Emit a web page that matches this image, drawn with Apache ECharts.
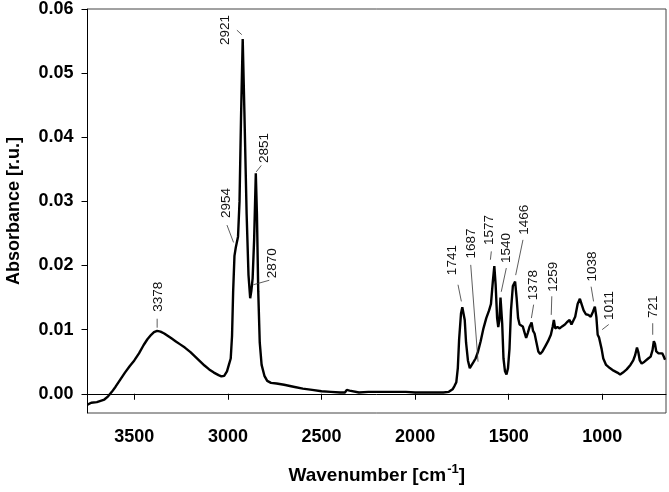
<!DOCTYPE html>
<html>
<head>
<meta charset="utf-8">
<script src="https://cdn.jsdelivr.net/npm/echarts@6/dist/echarts.min.js"></script>
<style>
  html, body { margin: 0; padding: 0; background: #fff; }
  #chart { width: 669px; height: 492px; }
</style>
</head>
<body>
<div id="chart"></div>
<script>
// spectrum (wavenumber in cm-1, absorbance in r.u.)
const wavenumber = [
  3750, 3730, 3700, 3680, 3660, 3640, 3620, 3600, 3575, 3550, 3525, 3500, 3475, 3450, 3430, 3410,
  3395, 3378, 3360, 3340, 3320, 3300, 3280, 3255, 3230, 3200, 3175, 3150, 3125, 3100, 3075, 3050,
  3035, 3020, 3005, 2995, 2985, 2978, 2972, 2965, 2958, 2954, 2946, 2938, 2930, 2921, 2912, 2900,
  2890, 2881, 2875, 2868, 2860, 2851, 2845, 2838, 2830, 2820, 2805, 2790, 2770, 2740, 2700, 2650,
  2600, 2550, 2500, 2450, 2400, 2375, 2365, 2358, 2350, 2340, 2300, 2250, 2200, 2150, 2100, 2050,
  2000, 1950, 1900, 1850, 1820, 1800, 1790, 1780, 1772, 1765, 1755, 1748, 1741, 1735, 1728, 1718,
  1708, 1698, 1687, 1677, 1665, 1650, 1635, 1620, 1605, 1595, 1585, 1577, 1570, 1562, 1556, 1550,
  1544, 1540, 1535, 1528, 1520, 1512, 1504, 1496, 1488, 1478, 1466, 1458, 1450, 1442, 1432, 1425,
  1415, 1407, 1398, 1388, 1378, 1370, 1362, 1352, 1342, 1332, 1320, 1305, 1290, 1275, 1265, 1259,
  1252, 1240, 1228, 1215, 1200, 1188, 1175, 1165, 1155, 1145, 1132, 1120, 1110, 1100, 1088, 1075,
  1062, 1050, 1040, 1032, 1025, 1018, 1011, 1004, 995, 980, 960, 940, 920, 905, 890, 870,
  850, 835, 825, 815, 808, 800, 790, 775, 755, 742, 732, 725, 719, 712, 700, 690,
  680, 672, 665
];
const absorbance = [
  -0.0017, -0.0014, -0.0013, -0.0011, -0.0009, -0.0004, 0.0003, 0.0011, 0.0022, 0.0033, 0.0043, 0.0052, 0.0063, 0.0076, 0.0085, 0.0092,
  0.0096, 0.0098, 0.0097, 0.0094, 0.0090, 0.0086, 0.0082, 0.0077, 0.0072, 0.0065, 0.0058, 0.0051, 0.0044, 0.0038, 0.0033, 0.0029,
  0.0027, 0.0028, 0.0035, 0.0045, 0.0055, 0.0090, 0.0160, 0.0215, 0.0228, 0.0230, 0.0245, 0.0300, 0.0430, 0.0553, 0.0440, 0.0280,
  0.0185, 0.0149, 0.0160, 0.0180, 0.0240, 0.0344, 0.0280, 0.0160, 0.0080, 0.0045, 0.0028, 0.0020, 0.0017, 0.0016, 0.0014, 0.0011,
  0.0008, 0.0006, 0.0004, 0.0003, 0.0002, 0.0002, 0.0006, 0.0004, 0.0005, 0.0002, 0.0002, 0.0003, 0.0003, 0.0003, 0.0003, 0.0003,
  0.0002, 0.0002, 0.0002, 0.0002, 0.0003, 0.0007, 0.0012, 0.0018, 0.0040, 0.0085, 0.0125, 0.0135, 0.0136, 0.0115, 0.0080, 0.0052,
  0.0040, 0.0043, 0.0050, 0.0055, 0.0065, 0.0082, 0.0102, 0.0118, 0.0130, 0.0140, 0.0175, 0.0199, 0.0170, 0.0118, 0.0104, 0.0115,
  0.0150, 0.0152, 0.0110, 0.0055, 0.0035, 0.0030, 0.0040, 0.0070, 0.0130, 0.0168, 0.0175, 0.0150, 0.0118, 0.0108, 0.0105, 0.0105,
  0.0095, 0.0087, 0.0095, 0.0105, 0.0111, 0.0098, 0.0094, 0.0080, 0.0066, 0.0062, 0.0066, 0.0074, 0.0082, 0.0092, 0.0105, 0.0115,
  0.0102, 0.0104, 0.0102, 0.0105, 0.0108, 0.0112, 0.0115, 0.0108, 0.0110, 0.0120, 0.0140, 0.0148, 0.0145, 0.0130, 0.0124, 0.0123,
  0.0120, 0.0128, 0.0136, 0.0120, 0.0092, 0.0088, 0.0086, 0.0070, 0.0055, 0.0045, 0.0040, 0.0036, 0.0033, 0.0030, 0.0033, 0.0038,
  0.0045, 0.0052, 0.0060, 0.0072, 0.0065, 0.0052, 0.0047, 0.0050, 0.0055, 0.0058, 0.0068, 0.0082, 0.0078, 0.0066, 0.0063, 0.0064,
  0.0063, 0.0058, 0.0053
];

const xTicks = [3500, 3000, 2500, 2000, 1500, 1000];
const yTicks = [0, 0.01, 0.02, 0.03, 0.04, 0.05, 0.06];

// peak labels: text, where the rotated label starts, and its leader line
const peakNames = ['3378', '2954', '2921', '2851', '2870', '1741', '1687', '1577', '1540', '1466', '1378', '1259', '1038', '1011', '721'];
const labelAt = [
  [3374, 0.0128], [3009, 0.0274], [3012, 0.0544], [2804, 0.0360], [2761, 0.0180],
  [1799, 0.0185], [1699, 0.0211], [1602, 0.0232], [1513, 0.0204], [1415, 0.0248],
  [1370, 0.0146], [1261, 0.0159], [1053, 0.0175], [962, 0.0115], [730, 0.0118]
];
const leaderFrom = [
  [3378, 0.0117], [3005, 0.0263], [2952, 0.0567], [2849, 0.0346], [2864, 0.0170],
  [1771, 0.0170], [1703, 0.0201], [1593, 0.0222], [1513, 0.0196], [1424, 0.0240],
  [1367, 0.0139], [1270, 0.0152], [1060, 0.0167], [966, 0.0108], [731, 0.0110]
];
const leaderTo = [
  [3378, 0.0103], [2970, 0.0236], [2926, 0.0560], [2822, 0.0356], [2779, 0.0177],
  [1753, 0.0144], [1664, 0.0050], [1598, 0.0209], [1540, 0.0159], [1463, 0.0185],
  [1379, 0.0118], [1273, 0.0123], [1047, 0.0144], [1001, 0.0100], [731, 0.0092]
];

const FONT = '"Liberation Sans", Arial, Helvetica, sans-serif';

const chartDom = document.getElementById('chart');
const myChart = echarts.init(chartDom, null, { renderer: 'canvas' });

const option = {
  animation: false,
  backgroundColor: '#fff',
  grid: {
    left: 87.5,
    right: 3,
    top: 9,
    bottom: 79,
    outerBoundsMode: 'none',
    containLabel: false,
    show: true,
    borderColor: '#444',
    borderWidth: 1
  },
  xAxis: {
    type: 'value',
    inverse: true,
    min: 660,
    max: 3750,
    name: '{b|Wavenumber [cm}{s|-1}{b|]}',
    nameLocation: 'middle',
    nameGap: 50,
    nameTextStyle: {
      rich: {
        b: { fontFamily: FONT, fontWeight: 'bold', fontSize: 19, color: '#000' },
        s: { fontFamily: FONT, fontWeight: 'bold', fontSize: 13, color: '#000', padding: [0, 0, 12, 1] }
      }
    },
    axisLine: { show: true, lineStyle: { color: '#000', width: 1 } },
    axisTick: { show: true, inside: false, length: 6, customValues: xTicks, lineStyle: { color: '#000' } },
    axisLabel: {
      customValues: xTicks,
      margin: 15,
      fontFamily: FONT,
      fontWeight: 'bold',
      fontSize: 18,
      color: '#000',
      formatter: (v) => String(v)
    },
    splitLine: { show: false }
  },
  yAxis: {
    type: 'value',
    min: -0.003,
    max: 0.06,
    name: 'Absorbance [r.u.]',
    nameLocation: 'middle',
    nameRotate: 90,
    nameGap: 64,
    nameTextStyle: { fontFamily: FONT, fontWeight: 'bold', fontSize: 18, color: '#000' },
    axisLine: { show: true, lineStyle: { color: '#000', width: 1 } },
    axisTick: { show: true, inside: false, length: 6, customValues: yTicks, lineStyle: { color: '#000' } },
    axisLabel: {
      customValues: yTicks,
      margin: 14,
      fontFamily: FONT,
      fontWeight: 'bold',
      fontSize: 18,
      color: '#000',
      formatter: (v) => v.toFixed(2)
    },
    splitLine: { show: false }
  },
  series: [
    {
      type: 'line',
      data: wavenumber.map((w, i) => [w, absorbance[i]]),
      showSymbol: false,
      symbol: 'none',
      smooth: false,
      lineStyle: { color: '#000', width: 2.4 },
      z: 3
    },
    {
      type: 'custom',
      clip: false,
      z: 4,
      data: labelAt.map((p, i) => [p[0], p[1], i]),
      encode: { x: 0, y: 1 },
      renderItem: (params, api) => {
        const i = api.value(2);
        const p = api.coord([api.value(0), api.value(1)]);
        const a = api.coord(leaderFrom[i]);
        const b = api.coord(leaderTo[i]);
        return {
          type: 'group',
          children: [
            {
              type: 'line',
              shape: { x1: a[0], y1: a[1], x2: b[0], y2: b[1] },
              style: { stroke: '#333', lineWidth: 0.8 }
            },
            {
              type: 'text',
              x: p[0],
              y: p[1],
              rotation: Math.PI / 2,
              style: {
                text: peakNames[i],
                fill: '#111',
                fontFamily: FONT,
                fontSize: 13.5,
                align: 'left',
                verticalAlign: 'middle'
              }
            }
          ]
        };
      }
    }
  ]
};

myChart.setOption(option);
</script>
</body>
</html>
